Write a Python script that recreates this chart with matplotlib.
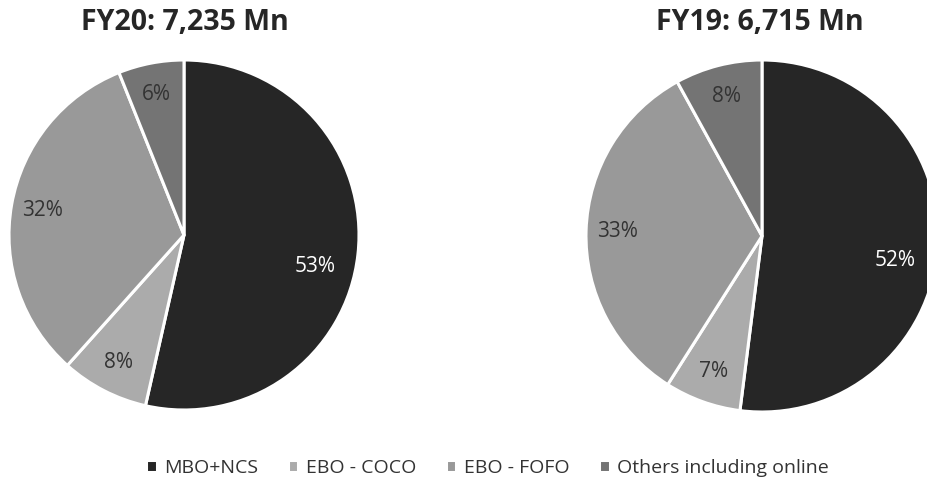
import numpy as np
import matplotlib.pyplot as plt

plt.rcParams['font.family'] = ['Open Sans', 'DejaVu Sans']

categories = ['MBO+NCS', 'EBO - COCO', 'EBO - FOFO', 'Others including online']
fy20_values = [53, 8, 32, 6]
fy19_values = [52, 7, 33, 8]
titles = ['FY20: 7,235 Mn', 'FY19: 6,715 Mn']
colours = ['#262626', '#ababab', '#999999', '#747474']
label_colours = ['white', '#333333', '#333333', '#333333']

fig = plt.figure(figsize=(9.27, 4.95), dpi=100)

# pie axes placed by pixel box (left, bottom, width, height)
boxes = [(9 / 927, 85 / 495, 350 / 927, 350 / 495),
         (586 / 927, 83 / 495, 352 / 927, 352 / 495)]
title_x = [185 / 927, 760 / 927]

for values, box, title, tx in zip([fy20_values, fy19_values], boxes, titles, title_x):
    ax = fig.add_axes(box)
    vals = iter(values)
    wedges, texts, autotexts = ax.pie(
        values, colors=colours, startangle=90, counterclock=False,
        autopct=lambda p: f'{next(vals)}%', pctdistance=0.82,
        wedgeprops=dict(edgecolor='white', linewidth=2.2),
        textprops=dict(fontsize=15))
    for t, c in zip(autotexts, label_colours):
        t.set_color(c)
    # big slice label sits a bit lower than the mid angle
    w = wedges[0]
    ang = np.deg2rad((w.theta1 + w.theta2) / 2 - 7)
    autotexts[0].set_position((0.77 * np.cos(ang), 0.77 * np.sin(ang)))
    ax.set_xlim(-1, 1)
    ax.set_ylim(-1, 1)
    ax.set_aspect('equal')
    fig.text(tx, 1 - 23 / 495, title, ha='center', va='center',
             fontsize=20.5, fontweight='bold', color='#262626')

fig.legend(wedges, categories, loc='center', bbox_to_anchor=(0.5 + 24 / 927, 1 - 468 / 495),
           ncol=4, frameon=False, fontsize=14, handlelength=0.55, handleheight=0.55,
           handletextpad=0.4, columnspacing=1.5, labelcolor='#333333')

fig.savefig('out.png', dpi=100)
